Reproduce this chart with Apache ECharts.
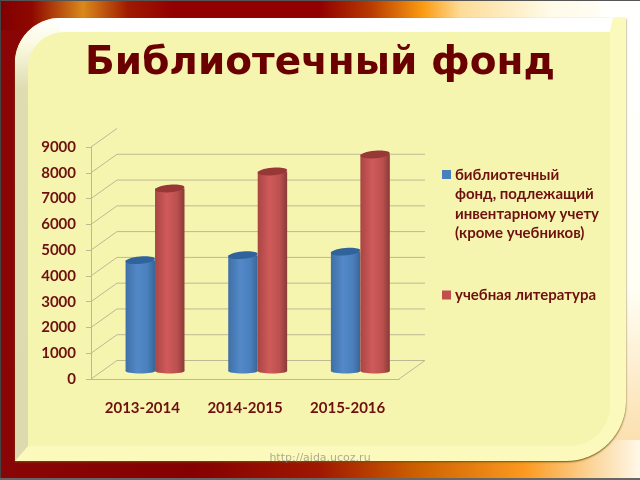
<!DOCTYPE html>
<html><head><meta charset="utf-8">
<style>html,body{margin:0;padding:0;background:#fff}#c{width:640px;height:480px}</style>
<script src="https://cdn.jsdelivr.net/npm/echarts@6/dist/echarts.min.js"></script></head>
<body><div id="c"></div>
<script>
const titleText = 'Библиотечный фонд';
const watermark = 'http://aida.ucoz.ru';
const categories = ['2013-2014', '2014-2015', '2015-2016'];
const seriesNames = ['библиотечный\nфонд, подлежащий\nинвентарному учету\n(кроме учебников)', 'учебная литература'];
const fundValues = [4300, 4495, 4630];
const textbookValues = [7080, 7740, 8400];
const yTicks = [0, 1000, 2000, 3000, 4000, 5000, 6000, 7000, 8000, 9000];

const DX = 26, DY = -18.5, LINE = '#bdb992', TEXT = '#6e1010', FONT = 'Lato, "Open Sans", sans-serif';
const lg = (stops, x2, y2) => ({type: 'linear', x: 0, y: 0, x2: x2, y2: y2, colorStops: stops.map(s => ({offset: s[0], color: s[1]}))});

function wallRender(params, api) {
  const cs = params.coordSys, tick = api.value(0), y = api.coord([0, tick])[1];
  const left = cs.x, right = cs.x + cs.width;
  const style = {stroke: LINE, lineWidth: 1, fill: null};
  const kids = [{type: 'line', shape: {x1: left, y1: y, x2: left + DX, y2: y + DY}, style}];
  if (tick < yTicks[yTicks.length - 1]) {
    kids.push({type: 'line', shape: {x1: left + DX, y1: y + DY, x2: right + DX, y2: y + DY}, style});
  }
  if (tick === 0) kids.push({type: 'line', shape: {x1: right, y1: y, x2: right + DX, y2: y + DY}, style});
  return {type: 'group', children: kids};
}

function cylinder(offset, stops, topColor) {
  return function (params, api) {
    const top = api.coord([api.value(0), api.value(1)]);
    const base = api.coord([api.value(0), 0]);
    const w = api.size([1, 0])[0] * 0.287, cx = top[0] + 12.7 + offset * w / 2, dy = -8;
    const grad = lg(stops, 1, 0);
    return {type: 'group', children: [
      {type: 'ellipse', shape: {cx: cx, cy: base[1] + dy, rx: w / 2, ry: 2.5}, style: {fill: grad}},
      {type: 'rect', shape: {x: cx - w / 2, y: top[1] + dy, width: w, height: base[1] - top[1]}, style: {fill: grad}},
      {type: 'ellipse', x: cx, y: top[1] + dy, rotation: 0.09, originX: 0, originY: 0,
       shape: {cx: 0, cy: 0, rx: w / 2, ry: 3.7}, style: {fill: topColor}}
    ]};
  };
}

const markTop = 'path://M0 0h9v9h-9z M0 68h9';
const markMid = 'path://M0 29.5h9v9h-9z M0 0h9 M0 68h9';
const chart = echarts.init(document.getElementById('c'));
chart.setOption({
  animation: false,
  backgroundColor: '#8a0505',
  title: {text: titleText, left: 315, top: 39, textAlign: 'center',
    textStyle: {fontFamily: '"DejaVu Sans"', fontWeight: 'bold', fontSize: 39, color: '#6b0000'}},
  graphic: {elements: [
    {type: 'rect', z: -20, shape: {x: 0, y: 0, width: 640, height: 30}, style: {fill: lg([[0,'#7f0000'],[0.05,'#8f0800'],[0.13,'#d98a1c'],[0.2,'#a01a00'],[0.27,'#930000'],[0.5,'#930000'],[0.58,'#b83c00'],[0.66,'#fb9a10'],[0.72,'#fddc98'],[0.86,'#fffbe8'],[1,'#ffffff']],1,0)}},
    {type: 'rect', z: -20, shape: {x: 600, y: 0, width: 40, height: 480}, style: {fill: lg([[0,'#ffffff'],[0.6,'#fffff4'],[0.95,'#fbdca8'],[1,'#f8d090']],0,1)}},
    {type: 'rect', z: -20, shape: {x: 0, y: 440, width: 640, height: 40}, style: {fill: lg([[0,'#8a0505'],[0.3,'#850000'],[0.5,'#a01800'],[0.65,'#cc6000'],[0.82,'#fb9a20'],[0.93,'#fbd8a0'],[1,'#fff8e8']],1,0)}},
    {type: 'rect', z: -19, shape: {x: 15, y: 18, width: 611, height: 443, r: [45, 0, 60, 0]}, style: {fill: '#fbf9bc', shadowBlur: 2, shadowColor: '#6a5208', shadowOffsetY: 1}},
    {type: 'rect', z: -18, shape: {x: 15, y: 18, width: 50, height: 443, r: [45, 0, 0, 0]}, style: {fill: lg([[0,'#ffffff'],[0.06,'#fbfae0'],[0.16,'#dedcb0'],[1,'#dcdaae']],0,1)}},
    {type: 'polygon', z: -17, shape: {points: [[15,461],[28,446],[70,446],[70,461]]}, style: {fill: '#fbf9bc'}},
    {type: 'polygon', z: -17, shape: {points: [[60,18],[613,18],[610,32],[60,32]]}, style: {fill: '#ffffff'}},
    {type: 'polygon', z: -17, shape: {points: [[613,18],[626,18],[626,20],[610,32]]}, style: {fill: '#fbf9bc'}},
    {type: 'rect', z: -16, shape: {x: 28, y: 32, width: 582, height: 414, r: [36, 0, 40, 0]}, style: {fill: '#f6f5b0'}},
    {type: 'text', z: 5, x: 320, y: 453, style: {text: watermark, fill: 'rgba(130,130,120,0.65)', font: '11px "DejaVu Sans"', align: 'center'}},
    {type: 'rect', z: 6, shape: {x: 0, y: 0, width: 640, height: 1}, style: {fill: '#555'}},
    {type: 'rect', z: 6, shape: {x: 0, y: 0, width: 1, height: 480}, style: {fill: '#444'}},
    {type: 'rect', z: 6, shape: {x: 0, y: 478, width: 640, height: 2}, style: {fill: '#666'}}
  ]},
  legend: {
    orient: 'vertical', left: 442, top: 165, padding: 0, itemWidth: 9, itemHeight: 68, itemGap: 18, itemSymbolKeepAspect: false,
    selectedMode: false,
    textStyle: {fontFamily: FONT, fontWeight: 'bold', fontSize: 15, color: TEXT, lineHeight: 19.5, padding: [0, 0, 0, -1]},
    data: [
      {name: seriesNames[0], icon: markTop, itemStyle: {color: '#4a7fbd'}},
      {name: seriesNames[1], icon: markMid, itemStyle: {color: '#c0504d'}}
    ]
  },
  grid: {left: 91, right: 241, top: 147, bottom: 101},
  xAxis: {type: 'category', data: categories,
    axisLine: {lineStyle: {color: LINE}}, axisTick: {length: 5, lineStyle: {color: LINE}},
    axisLabel: {margin: 22, fontFamily: FONT, fontWeight: 'bold', fontSize: 15, color: TEXT}},
  yAxis: {type: 'value', min: 0, max: 9000, interval: 1000,
    axisLine: {show: true, lineStyle: {color: LINE}}, axisTick: {show: true, length: 5, lineStyle: {color: LINE}},
    splitLine: {show: false},
    axisLabel: {margin: 15, padding: [3, 0, 0, 0], formatter: v => String(v), fontFamily: FONT, fontWeight: 'bold', fontSize: 15, color: TEXT}},
  series: [
    {type: 'custom', name: 'wall', z: 1, silent: true, data: yTicks.map(t => [t]), encode: {y: 0}, renderItem: wallRender},
    {type: 'custom', name: seriesNames[0], z: 3, itemStyle: {color: '#4a7fbd'},
     data: fundValues.map((v, i) => [i, v]), encode: {x: 0, y: 1},
     renderItem: cylinder(-1, [[0,'#3f6fa6'],[0.4,'#5389c8'],[0.75,'#4a7fbc'],[1,'#386596']], '#30639b')},
    {type: 'custom', name: seriesNames[1], z: 4, itemStyle: {color: '#c0504d'},
     data: textbookValues.map((v, i) => [i, v]), encode: {x: 0, y: 1},
     renderItem: cylinder(1, [[0,'#a84644'],[0.4,'#d05a5a'],[0.75,'#bb504f'],[1,'#8a3a38']], '#973837')}
  ]
});
</script></body></html>
